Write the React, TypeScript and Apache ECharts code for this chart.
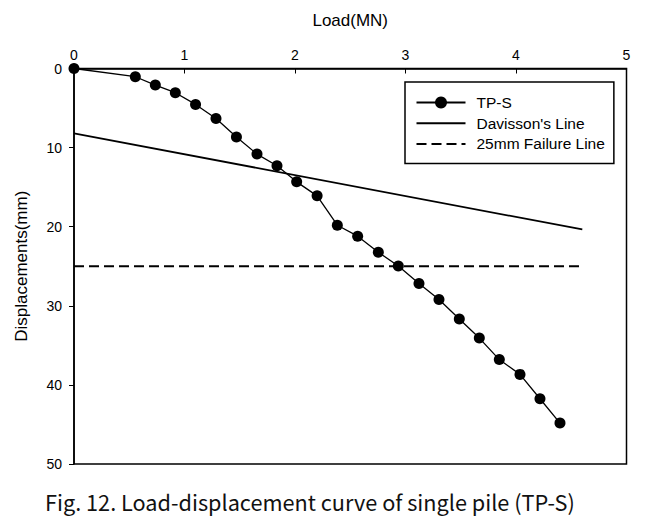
import React, { useEffect, useRef } from "react";
import * as echarts from "echarts";

const loads = [0, 0.555, 0.736, 0.917, 1.1, 1.285, 1.47, 1.656, 1.837, 2.015, 2.2, 2.383, 2.567, 2.754, 2.935, 3.122, 3.303, 3.487, 3.668, 3.849, 4.036, 4.217, 4.398];
const displacements = [0, 1.04, 2.09, 3.06, 4.54, 6.31, 8.67, 10.82, 12.3, 14.33, 16.1, 19.81, 21.2, 23.23, 24.96, 27.19, 29.2, 31.67, 34.08, 36.8, 38.67, 41.75, 44.83];
const davissonLine = [[0, 8.2], [4.6, 20.35]];
const failureLine = [[0, 25], [4.57, 25]];
const seriesNames = ["TP-S", "Davisson's Line", "25mm Failure Line"];
const caption = "Fig. 12. Load-displacement curve of single pile (TP-S)";

export default function App() {
  const ref = useRef<HTMLDivElement>(null);
  useEffect(() => {
    const chart = echarts.init(ref.current!, null, { renderer: "svg" });
    const font = "'Liberation Sans', Arial, sans-serif";
    chart.setOption({
      animation: false,
      backgroundColor: "#fff",
      textStyle: { fontFamily: font, color: "#000" },
      grid: {
        left: 74, right: 22.5, top: 68.5, bottom: 62,
        show: true, borderColor: "#000", borderWidth: 1.5, backgroundColor: "transparent",
      },
      xAxis: {
        type: "value", position: "top", min: 0, max: 5, interval: 1,
        name: "Load(MN)", nameLocation: "middle", nameGap: 40,
        nameTextStyle: { fontSize: 17, color: "#000", fontFamily: font },
        axisLine: { show: true, lineStyle: { color: "#000", width: 1.5 } },
        axisTick: { show: true, inside: true, length: 5, lineStyle: { color: "#000", width: 1 } },
        axisLabel: { fontSize: 14, color: "#000", margin: 7, fontFamily: font },
        splitLine: { show: false },
      },
      yAxis: {
        type: "value", inverse: true, min: 0, max: 50, interval: 10,
        name: "Displacements(mm)", nameLocation: "middle", nameGap: 44,
        nameTextStyle: { fontSize: 17, color: "#000", fontFamily: font },
        axisLine: { show: true, lineStyle: { color: "#000", width: 1.5 } },
        axisTick: { show: true, inside: false, length: 5, lineStyle: { color: "#000", width: 1 } },
        axisLabel: { fontSize: 14, color: "#000", margin: 12, fontFamily: font },
        splitLine: { show: false },
      },
      legend: {
        orient: "vertical", left: 405, top: 82,
        data: [
          { name: seriesNames[0] },
          { name: seriesNames[1], itemStyle: { opacity: 0 } },
          { name: seriesNames[2], itemStyle: { opacity: 0 } },
        ],
        itemWidth: 49, itemHeight: 15, itemGap: 4.7,
        padding: [12.5, 9, 11.5, 10.5],
        borderColor: "#000", borderWidth: 1.5,
        textStyle: { fontSize: 15.5, lineHeight: 15, color: "#000", fontFamily: font, padding: [0, 0, 0, 6] },
      },
      series: [
        {
          name: seriesNames[0], type: "line",
          data: loads.map((x, i) => [x, displacements[i]]),
          symbol: "circle", symbolSize: 11, clip: false,
          itemStyle: { color: "#000" },
          lineStyle: { color: "#000", width: 1.3 },
        },
        {
          name: seriesNames[1], type: "line", data: davissonLine, symbol: "none",
          itemStyle: { color: "#000" },
          lineStyle: { color: "#000", width: 1.8 },
        },
        {
          name: seriesNames[2], type: "line", data: failureLine, symbol: "none",
          itemStyle: { color: "#000" },
          lineStyle: { color: "#000", width: 2, type: [10, 5] },
        },
      ],
      graphic: [
        {
          type: "text", left: 45, top: 491,
          style: {
            text: caption, fontSize: 21.7, fill: "#111",
            fontFamily: "'Noto Sans CJK KR', 'Noto Sans', sans-serif",
          },
        },
      ],
    });
    return () => chart.dispose();
  }, []);
  return <div ref={ref} style={{ width: 649, height: 526, position: "absolute", left: 0, top: 0 }} />;
}
